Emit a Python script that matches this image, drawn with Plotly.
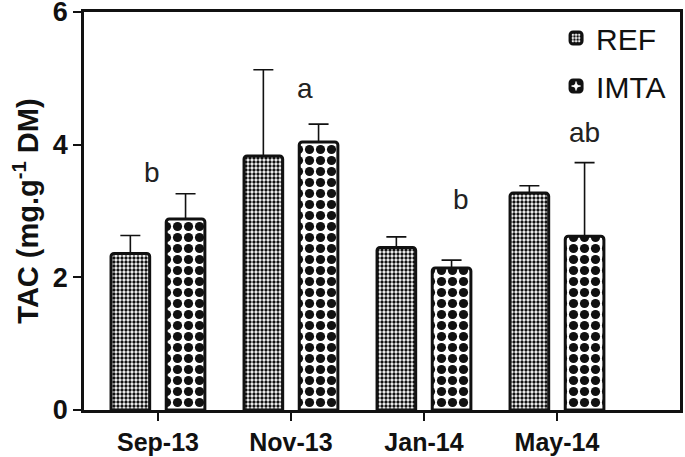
import plotly.graph_objects as go

# Data
months = ["Sep-13", "Nov-13", "Jan-14", "May-14"]
ref_tac = [2.36, 3.83, 2.45, 3.27]
ref_err = [0.27, 1.30, 0.16, 0.11]
imta_tac = [2.88, 4.04, 2.14, 2.62]
imta_err = [0.38, 0.27, 0.12, 1.11]
sig_letters = ["b", "a", "b", "ab"]
sig_y = [3.58, 4.85, 3.18, 4.19]
sig_shift = [-6, 14, 37, 28]

fig = go.Figure()

# REF bars: fine checker
fig.add_trace(go.Bar(
    x=months, y=ref_tac, name="REF", legendgroup="ref",
    marker=dict(color="white", cornerradius=3,
                line=dict(color="#111111", width=3),
                pattern=dict(shape=".", fgcolor="#111111", bgcolor="white",
                             fgopacity=1, size=4, solidity=0.55)),
    error_y=dict(type="data", array=ref_err, arrayminus=[0] * len(ref_err),
                 symmetric=False, color="#111111", thickness=1.6, width=10),
))

# IMTA bars: coarse checker
fig.add_trace(go.Bar(
    x=months, y=imta_tac, name="IMTA", legendgroup="imta",
    marker=dict(color="white", cornerradius=3,
                line=dict(color="#111111", width=3),
                pattern=dict(shape=".", fgcolor="#111111", bgcolor="white",
                             fgopacity=1, size=11, solidity=0.55)),
    error_y=dict(type="data", array=imta_err, arrayminus=[0] * len(imta_err),
                 symmetric=False, color="#111111", thickness=1.6, width=10),
))

# Significance letters
for m, t, yv, sh in zip(months, sig_letters, sig_y, sig_shift):
    fig.add_annotation(x=m, y=yv, text=t, showarrow=False, xshift=sh,
                       font=dict(family="Liberation Sans, Arial", size=28, color="#222222"))

fig.update_layout(
    width=685,
    height=457,
    margin=dict(l=84, r=5, t=12, b=47),
    plot_bgcolor="white",
    paper_bgcolor="white",
    barmode="group",
    bargap=0.17,
    bargroupgap=0.3,
    font=dict(family="Liberation Sans, Arial", color="#111111"),
    xaxis=dict(
        range=[-0.556, 3.925], automargin=False,
        showline=True, linecolor="#111111", linewidth=2.5, mirror=True,
        ticks="outside", ticklen=8, tickwidth=2, tickcolor="#111111",
        tickfont=dict(size=25), ticklabeloverflow="allow",
        tickvals=months, ticktext=[f"<b>{m}</b>" for m in months],
        showgrid=False, zeroline=False,
    ),
    yaxis=dict(
        range=[0, 6], automargin=False,
        tickvals=[0, 2, 4, 6], ticktext=[f"<b>{v}</b>" for v in [0, 2, 4, 6]],
        showline=True, linecolor="#111111", linewidth=2.5, mirror=True,
        ticks="outside", ticklen=8, tickwidth=2, tickcolor="#111111",
        tickfont=dict(size=27), ticklabeloverflow="allow",
        showgrid=False, zeroline=False,
        title=dict(text="<b>TAC (mg.g<sup>-1</sup> DM)</b>", font=dict(size=29), standoff=6),
    ),
    legend=dict(
        x=0.985, y=1.0, xanchor="right", yanchor="top",
        font=dict(size=30, color="#111111"),
        traceorder="grouped", tracegroupgap=6,
        bgcolor="rgba(0,0,0,0)",
    ),
)

# page has a default 8px body margin; drop it so the figure sits at 0,0
fig.write_html("out.html", config={"displayModeBar": False},
               post_script="document.body.style.margin='0px';")
